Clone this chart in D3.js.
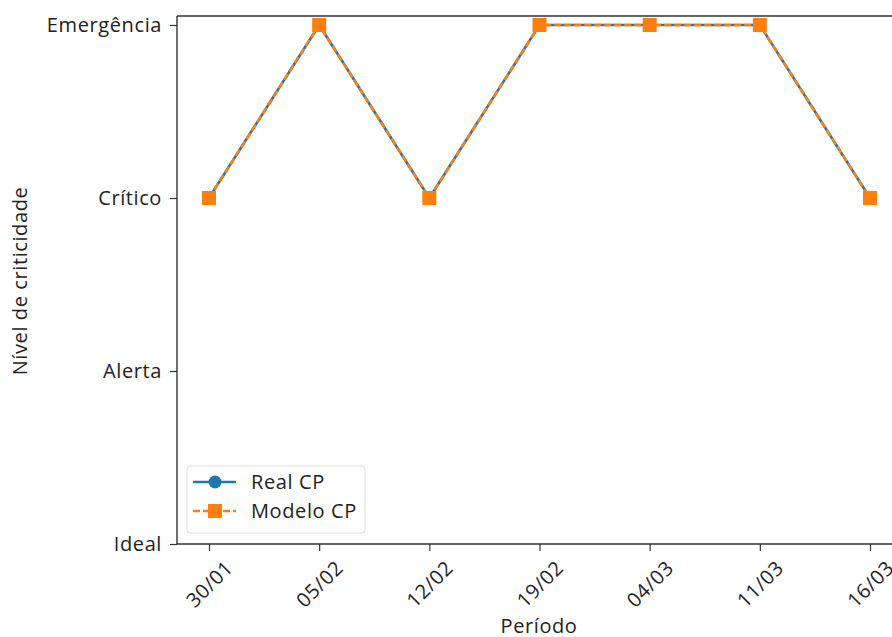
<!DOCTYPE html>
<html>
<head>
<meta charset="utf-8">
<script src="https://cdn.jsdelivr.net/npm/d3@7"></script>
<style>
  body { margin: 0; background: #fff; }
  text { font-family: "Open Sans", sans-serif; fill: #222; letter-spacing: 0.6px; }
</style>
</head>
<body>
<svg id="chart" width="892" height="637"></svg>
<script>
// -------------------- DATA -------------------- //
const periods = ["30/01", "05/02", "12/02", "19/02", "04/03", "11/03", "16/03"];
const levels = ["Ideal", "Alerta", "Crítico", "Emergência"];
const realCP = [2, 3, 2, 3, 3, 3, 2];
const modeloCP = [2, 3, 2, 3, 3, 3, 2];

const BLUE = "#1f77b4";
const ORANGE = "#ff7f0e";
const FONT = "Open Sans, sans-serif";
const FS = "20px";

// -------------------- LAYOUT -------------------- //
let svg = d3.select("#chart");
let plotLeft = 177, plotRight = 903, plotTop = 16, plotBottom = 544;

let x = d3.scalePoint().domain(periods).range([209, 870]);
let y = d3.scaleLinear().domain([0, 3.052]).range([plotBottom, plotTop]);

// spines
function spine(x1, y1, x2, y2) {
    svg.append("line").attr("x1", x1).attr("x2", x2).attr("y1", y1).attr("y2", y2)
        .attr("stroke", "#333").attr("stroke-width", 1.4);
}
spine(plotLeft, plotTop, plotLeft, plotBottom);
spine(plotLeft, plotBottom, plotRight, plotBottom);
spine(plotLeft, plotTop, plotRight, plotTop);
spine(plotRight, plotTop, plotRight, plotBottom);

// y axis
let yAxis = d3.axisLeft(y).tickValues(d3.range(levels.length))
    .tickFormat(i => levels[i]).tickSize(7).tickPadding(8);
let gy = svg.append("g").attr("transform", `translate(${plotLeft},0)`).call(yAxis);
gy.select(".domain").remove();
gy.selectAll(".tick line").attr("stroke", "#333").attr("stroke-width", 1.2);
gy.selectAll(".tick text").style("font-size", FS).attr("fill", "#222")
    .style("font-family", FONT);

// x axis
let xAxis = d3.axisBottom(x).tickSize(7).tickFormat("");
let gx = svg.append("g").attr("transform", `translate(0,${plotBottom})`).call(xAxis);
gx.select(".domain").remove();
gx.selectAll(".tick line").attr("stroke", "#333").attr("stroke-width", 1.2);
gx.selectAll(".tick").append("text")
    .attr("transform", "translate(0,40) rotate(-45)")
    .attr("text-anchor", "middle")
    .attr("dy", "0.35em")
    .attr("fill", "#222")
    .style("font-size", FS)
    .style("font-family", FONT)
    .text(d => d);

// axis labels
svg.append("text").attr("x", 539).attr("y", 633).attr("text-anchor", "middle")
    .style("font-size", FS).text("Período");
svg.append("text").attr("transform", "translate(27,281) rotate(-90)")
    .attr("text-anchor", "middle").style("font-size", FS).text("Nível de criticidade");

// -------------------- SERIES -------------------- //
let line = d3.line().x((d, i) => x(periods[i])).y(d => y(d));

svg.append("path").datum(realCP).attr("d", line)
    .attr("fill", "none").attr("stroke", BLUE).attr("stroke-width", 2.6);
svg.selectAll(".real-pt").data(realCP).join("circle")
    .attr("class", "real-pt")
    .attr("cx", (d, i) => x(periods[i])).attr("cy", d => y(d))
    .attr("r", 6.5).attr("fill", BLUE);

svg.append("path").datum(modeloCP).attr("d", line)
    .attr("fill", "none").attr("stroke", ORANGE).attr("stroke-width", 2.6)
    .attr("stroke-dasharray", "7,3");
svg.selectAll(".modelo-pt").data(modeloCP).join("rect")
    .attr("class", "modelo-pt")
    .attr("x", (d, i) => x(periods[i]) - 7).attr("y", d => y(d) - 7)
    .attr("width", 14).attr("height", 14).attr("fill", ORANGE);

// -------------------- LEGEND -------------------- //
let lg = svg.append("g").attr("transform", "translate(187,466)");
lg.append("rect").attr("width", 178).attr("height", 67).attr("rx", 3)
    .attr("fill", "#fff").attr("fill-opacity", 0.8).attr("stroke", "#ddd");
lg.append("line").attr("x1", 6).attr("x2", 49).attr("y1", 16).attr("y2", 16)
    .attr("stroke", BLUE).attr("stroke-width", 2.6);
lg.append("circle").attr("cx", 28).attr("cy", 16).attr("r", 6.5).attr("fill", BLUE);
lg.append("text").attr("x", 64).attr("y", 16).attr("dy", "0.35em")
    .style("font-size", FS).text("Real CP");
lg.append("line").attr("x1", 6).attr("x2", 49).attr("y1", 45).attr("y2", 45)
    .attr("stroke", ORANGE).attr("stroke-width", 2.6).attr("stroke-dasharray", "7,3");
lg.append("rect").attr("x", 21).attr("y", 38).attr("width", 14).attr("height", 14).attr("fill", ORANGE);
lg.append("text").attr("x", 64).attr("y", 45).attr("dy", "0.35em")
    .style("font-size", FS).text("Modelo CP");
</script>
</body>
</html>
